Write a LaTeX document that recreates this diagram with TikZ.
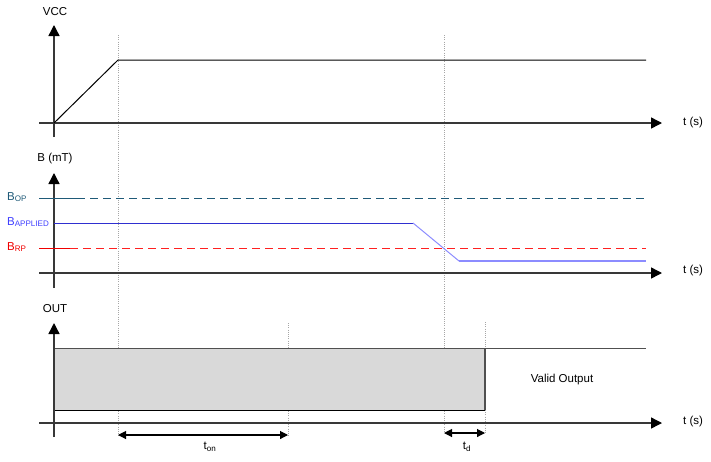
\documentclass[tikz,border=0pt]{standalone}
\usepackage{fontspec}
\setmainfont{Liberation Sans}
\usetikzlibrary{arrows.meta}
\definecolor{axisgray}{HTML}{383838}
\definecolor{opcol}{HTML}{1F5A78}
\definecolor{appline}{HTML}{2F2FD0}
\definecolor{applight}{HTML}{8C8CFF}
\definecolor{applbl}{HTML}{4040FF}
\definecolor{rpline}{HTML}{FF2020}
\definecolor{rplbl}{HTML}{F00000}
\definecolor{boxgray}{HTML}{D9D9D9}
\definecolor{edgegray}{HTML}{505050}
\begin{document}
\begin{tikzpicture}[x=1pt,y=-1pt,font=\fontsize{11.5}{13}\selectfont,
  axis/.style={draw=axisgray,line width=1.4pt,-{Triangle[length=11pt,width=11pt,color=black]}},
  guide/.style={draw=gray!70,line width=0.7pt,dash pattern=on 1pt off 1.2pt},
  sig/.style={draw=black,line width=1pt},
  dimarrow/.style={draw=black,line width=1.1pt,{Triangle[length=8pt,width=8pt]}-{Triangle[length=8pt,width=8pt]}},
  dashline/.style={line width=1pt,dash pattern=on 8pt off 5pt},
  lbl/.style={inner sep=0pt}]
\useasboundingbox (0,0) rectangle (711,461);

% guide lines
\coordinate (g1t) at (118,35);  \coordinate (g1b) at (118,437);
\coordinate (g2t) at (444,35);  \coordinate (g2b) at (444,433);
\coordinate (g3t) at (288,323); \coordinate (g3b) at (288,437);
\coordinate (g4t) at (485,322); \coordinate (g4b) at (485,433);
\draw[guide] (g1t) -- (g1b);
\draw[guide] (g2t) -- (g2b);
\draw[guide] (g3t) -- (g3b);
\draw[guide] (g4t) -- (g4b);

% ---------- VCC panel ----------
\coordinate (v0) at (54,123);
\coordinate (vb) at (54,137);
\coordinate (vt) at (54,25);
\coordinate (vl) at (39,123);
\coordinate (vr) at (662,123);
\draw[axis] (vb) -- (vt);
\draw[axis] (vl) -- (vr);
\node[lbl] (vcc) at (55,12) {VCC};
\node[lbl,anchor=west] (t1) at (683,123) {t (s)};
\coordinate (vk) at (118,60);
\coordinate (ve) at (646,60);
\draw[sig] (v0) -- (vk) -- (ve);

% ---------- B panel ----------
\coordinate (bb) at (54,288);
\coordinate (bt) at (54,173);
\coordinate (bl) at (39,273);
\coordinate (br) at (662,273);
\draw[axis] (bb) -- (bt);
\draw[axis] (bl) -- (br);
\node[lbl] (bmt) at (55,159) {B (mT)};
\node[lbl,anchor=west] (t2) at (683,271) {t (s)};

\coordinate (op0) at (39,198); \coordinate (op1) at (77,198); \coordinate (op2) at (646,198);
\draw[opcol,line width=1pt] (op0) -- (op1);
\draw[opcol,dashline] (op1) -- (op2);
\node[lbl,anchor=west,text=opcol] (bop) at (7,197) {B\textsubscript{OP}};

\coordinate (rp0) at (39,248); \coordinate (rp1) at (70,248); \coordinate (rp2) at (646,248);
\draw[rplbl,line width=1pt] (rp0) -- (rp1);
\draw[rpline,dashline] (rp1) -- (rp2);
\node[lbl,anchor=west,text=rplbl] (brp) at (7,247) {B\textsubscript{RP}};

\coordinate (ap0) at (54,223); \coordinate (ap1) at (413,223);
\coordinate (ap2) at (459,261); \coordinate (ap3) at (646,261);
\draw[appline,line width=1pt] (ap0) -- (ap1);
\draw[applight,line width=1pt] (ap1) -- (ap2);
\draw[applight,line width=1.6pt] (ap2) -- (ap3);
\node[lbl,anchor=west,text=applbl] (bap) at (7,222) {B\textsubscript{APPLIED}};

% ---------- OUT panel ----------
\coordinate (ob) at (54,437);
\coordinate (ot) at (54,323);
\coordinate (ol) at (39,423);
\coordinate (or) at (662,423);
\fill[boxgray] (54,348) rectangle (485,410);
\coordinate (bxtl) at (54,348); \coordinate (bxtr) at (485,348);
\coordinate (bxbl) at (54,410); \coordinate (bxbr) at (485,410);
\coordinate (otop) at (646,348);
\draw[edgegray,line width=1pt] (bxtl) -- (otop);
\draw[black,line width=1pt] (bxbl) -- (bxbr);
\draw[edgegray,line width=1.1pt] (bxtr) -- (bxbr);
\draw[axis] (ob) -- (ot);
\draw[axis] (ol) -- (or);
\node[lbl] (out) at (55,309) {OUT};
\node[lbl,anchor=west] (t3) at (683,422) {t (s)};
\node[lbl] (valid) at (562,380) {Valid Output};

\coordinate (ton0) at (118,435); \coordinate (ton1) at (288,435);
\draw[dimarrow] (ton0) -- (ton1);
\node[lbl] (tonl) at (210,447) {t\textsubscript{on}};
\coordinate (td0) at (444,433); \coordinate (td1) at (485,433);
\draw[dimarrow] (td0) -- (td1);
\node[lbl] (tdl) at (467,447) {t\textsubscript{d}};
\end{tikzpicture}
\end{document}
